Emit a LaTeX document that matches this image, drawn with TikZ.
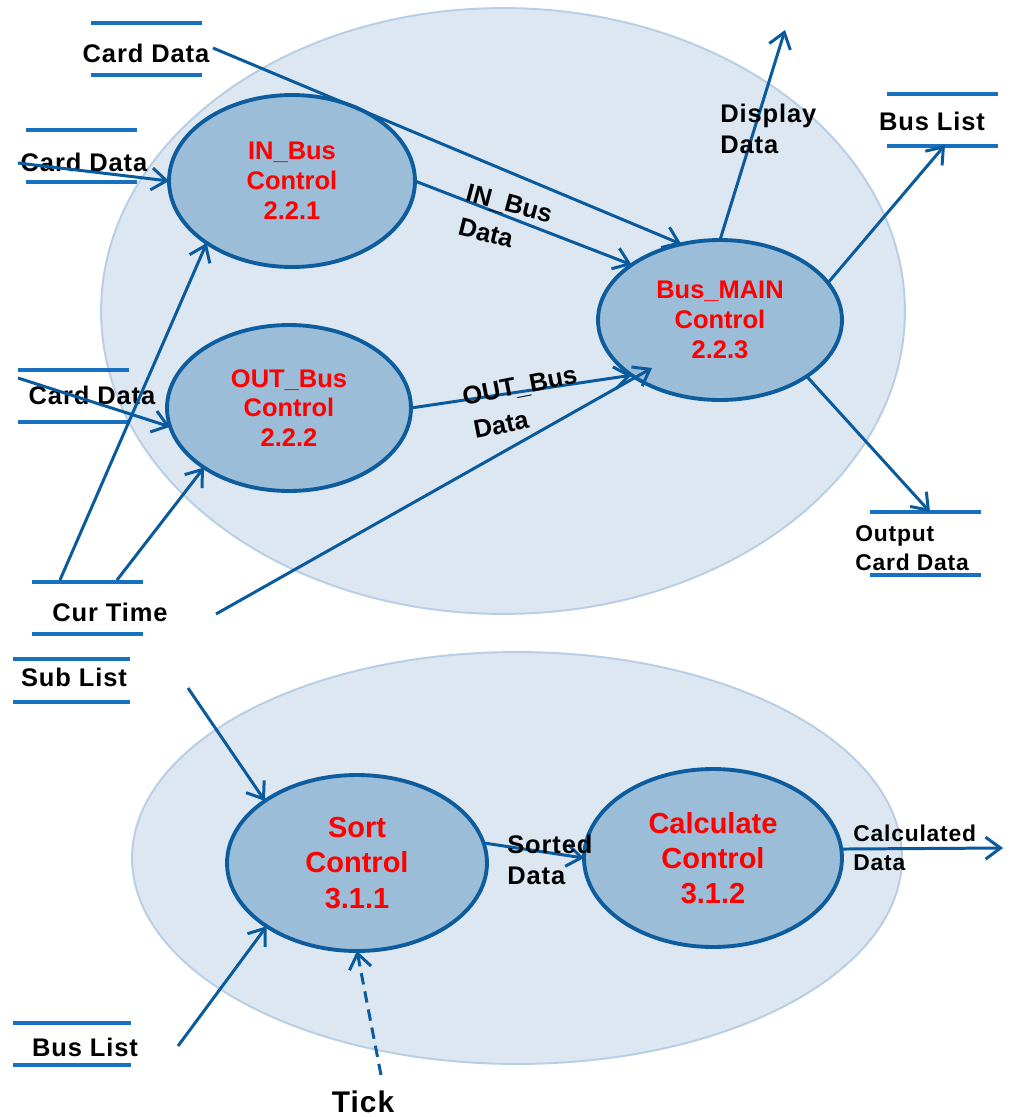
\documentclass[tikz,border=0pt]{standalone}
\usepackage{fontspec}
\setmainfont{Liberation Sans}
\newfontfamily\lblfont[LetterSpace=3.5]{Liberation Sans}
\usetikzlibrary{arrows.meta,calc,shapes.geometric}

\definecolor{flowblue}{RGB}{10,90,158}
\definecolor{storeblue}{RGB}{24,112,192}
\definecolor{procfill}{RGB}{155,189,215}
\definecolor{procedge}{RGB}{12,92,158}
\definecolor{groupfill}{RGB}{220,231,242}
\definecolor{groupedge}{RGB}{184,206,228}
\definecolor{proctext}{RGB}{255,0,0}

\tikzset{
  flow/.style={draw=flowblue, line width=1.7pt, -{Straight Barb[length=8.5pt,width=12.5pt]}},
  group/.style={fill=groupfill, draw=groupedge, line width=1.1pt},
  proc/.style={ellipse, fill=procfill, draw=procedge, line width=2.2pt, inner sep=0pt,
    outer sep=0pt, text=proctext, font=\bfseries\fontsize{14.5}{17}\selectfont, align=center},
  bigproc/.style={proc, font=\bfseries\fontsize{16.5}{20}\selectfont},
  storeline/.style={draw=storeblue, line width=1.9pt},
  lbl/.style={font=\lblfont\bfseries\fontsize{14.5}{17.5}\selectfont, inner sep=0pt, align=left},
  rotlbl/.style={font=\bfseries\fontsize{14.5}{17.5}\selectfont, inner sep=0pt},
  smalllbl/.style={font=\lblfont\bfseries\fontsize{13}{16.5}\selectfont, inner sep=0pt, align=left},
}

\begin{document}
\begin{tikzpicture}[x=0.02cm, y=-0.02cm]
\useasboundingbox (0,0) rectangle (1010,1117);

% group bubbles
\draw[group] (503,311) ellipse [x radius=8.04cm, y radius=6.06cm];
\draw[group] (517,858) ellipse [x radius=7.7cm, y radius=4.12cm];

% processes
\node[proc, minimum width=4.92cm, minimum height=3.44cm] (inbus) at (292,181) {IN\_Bus\\Control\\2.2.1};
\node[proc, minimum width=4.88cm, minimum height=3.32cm] (outbus) at (289,408) {OUT\_Bus\\Control\\2.2.2};
\node[proc, minimum width=4.88cm, minimum height=3.2cm] (main) at (720,320) {Bus\_MAIN\\Control\\2.2.3};
\node[bigproc, minimum width=5.2cm, minimum height=3.52cm] (sort) at (357,863) {Sort\\Control\\3.1.1};
\node[bigproc, minimum width=5.16cm, minimum height=3.56cm] (calc) at (713,858) {Calculate\\Control\\3.1.2};

% data stores
\draw[storeline] (91,23) -- (202,23) (91,75) -- (202,75);
\node[lbl] (cardA) at (146,53) {Card Data};
\draw[storeline] (26,130) -- (137,130) (26,182) -- (137,182);
\node[lbl] (cardB) at (84,162) {Card Data};
\draw[storeline] (18,370) -- (129,370) (18,422) -- (129,422);
\node[lbl] (cardC) at (92,395) {Card Data};
\draw[storeline] (32,582) -- (143,582) (32,634) -- (143,634);
\node[lbl] (curtime) at (110,612) {Cur Time};
\draw[storeline] (887,94) -- (998,94) (887,146) -- (998,146);
\node[lbl] (buslistA) at (932,121) {Bus List};
\draw[storeline] (870,512) -- (981,512) (870,575) -- (981,575);
\node[smalllbl, anchor=west] (outcard) at (855,548) {Output\\Card Data};
\draw[storeline] (13,659) -- (130,659) (13,702) -- (130,702);
\node[lbl] (sublist) at (74,677) {Sub List};
\draw[storeline] (13,1023) -- (131,1023) (13,1065) -- (131,1065);
\node[lbl] (buslistB) at (85,1047) {Bus List};
\node[font=\lblfont\bfseries\fontsize{17}{20}\selectfont, inner sep=0pt] (tick) at (363,1102) {Tick};

% flow end points
\coordinate (cardAout) at (213,48);
\coordinate (cardBout) at (18,163);
\coordinate (cardCout) at (18,378);
\coordinate (timeA) at (60,580);
\coordinate (timeB) at (117,580);
\coordinate (timeC) at (216,614);
\coordinate (dispend) at (785,30);
\coordinate (buslistin) at (945,145);
\coordinate (outcardin) at (930,512);
\coordinate (sublistout) at (188,688);
\coordinate (buslistout) at (178,1046);
\coordinate (tickout) at (381,1075);
\coordinate (calcend) at (1003,848);

% flows of the upper group
\draw[flow] (cardAout) -- (main.117);
\draw[flow] (cardBout) -- (inbus.west);
\draw[flow] (cardCout) -- (outbus.189);
\draw[flow] (timeA) -- (inbus.216);
\draw[flow] (timeB) -- (outbus.215);
\draw[flow] (timeC) -- ($(main.center)+(-68,48)$);
\draw[flow] (inbus.east) -- (main.148);
\draw[flow] (outbus.east) -- (main.212);
\draw[flow] (main.north) -- (dispend);
\draw[flow] (main.19) -- (buslistin);
\draw[flow] (main.-33) -- (outcardin);

% flows of the lower group
\draw[flow] (sublistout) -- (sort.146);
\draw[flow] (buslistout) -- (sort.215);
\draw[flow, dash pattern=on 6.5pt off 4pt] (tickout) -- (sort.south);
\draw[flow] (sort.9) -- (calc.west);
\draw[flow] (calc.4) -- (calcend);

% flow labels
\node[rotlbl, rotate=-15] (inlblA) at (509,205) {IN\_Bus};
\node[rotlbl, rotate=-14] (inlblB) at (486,233) {Data};
\node[rotlbl, rotate=11] (outlblA) at (520,387) {OUT\_Bus};
\node[rotlbl, rotate=11] (outlblB) at (501,425) {Data};
\node[lbl, anchor=west] (displbl) at (720,129) {Display\\Data};
\node[lbl, anchor=west] (sortlbl) at (507,860) {Sorted\\Data};
\node[smalllbl, anchor=west] (calclbl) at (853,848) {Calculated\\Data};
\end{tikzpicture}
\end{document}
